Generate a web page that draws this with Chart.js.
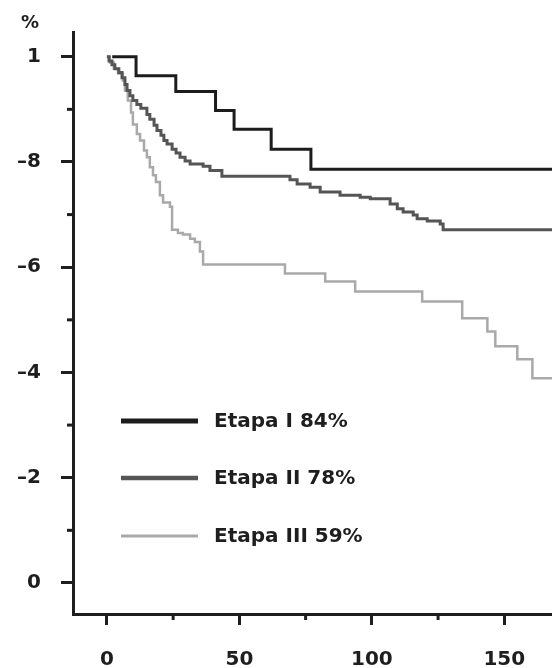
<!DOCTYPE html>
<html>
<head>
<meta charset="utf-8">
<script src="https://cdn.jsdelivr.net/npm/chart.js@4.4.0/dist/chart.umd.min.js"></script>
<style>
  body { margin: 0; background: #fff; }
  #wrap { width: 552px; height: 668px; position: relative; }
</style>
</head>
<body>
<div id="wrap"><canvas id="survivalChart"></canvas></div>
<script>
// Axis ticks
const xTicks = [0, 50, 100, 150];
const xMinorTicks = [25, 75, 125];
const yTicks = [0, 0.2, 0.4, 0.6, 0.8, 1];
const yTickLabels = ['0', '\u20132', '\u20134', '\u20136', '\u20138', '1'];
const yMinorTicks = [0.1, 0.3, 0.5, 0.7, 0.9];

// Series (time, survival)
const seriesLabels = ['Etapa I 84%', 'Etapa II 78%', 'Etapa III 59%'];

const etapaITime  = [2, 11, 26, 41, 48, 62, 77, 168];
const etapaIValue = [1, 0.964, 0.934, 0.898, 0.862, 0.824, 0.786, 0.786];

const etapaIITime  = [0, 0.8, 1.9, 3.0, 4.5, 5.7, 6.8, 7.6, 8.7, 9.8, 11.3, 12.8, 15.1, 16.2, 17.8,
  18.9, 20.4, 21.5, 22.7, 24.6, 26.1, 27.6, 29.5, 31.4, 36.3, 38.9, 43.4, 69.1, 71.8, 76.7,
  80.5, 88.0, 95.6, 99.4, 106.9, 109.6, 111.8, 115.6, 117.1, 120.9, 125.8, 126.9, 168];
const etapaIIValue = [1, 0.992, 0.985, 0.977, 0.970, 0.960, 0.947, 0.936, 0.926, 0.917, 0.909, 0.902, 0.890, 0.881, 0.870,
  0.860, 0.851, 0.841, 0.834, 0.824, 0.817, 0.809, 0.802, 0.796, 0.792, 0.784, 0.773, 0.766, 0.758, 0.752,
  0.743, 0.737, 0.733, 0.730, 0.720, 0.711, 0.705, 0.699, 0.692, 0.688, 0.682, 0.671, 0.671];

const etapaIIITime  = [0, 1.1, 2.6, 4.2, 6.0, 6.8, 7.9, 9.1, 9.8, 11.3, 12.5, 14.0, 15.1, 16.2, 17.4,
  18.5, 20.0, 21.2, 23.8, 24.6, 26.8, 28.7, 31.4, 33.2, 35.1, 36.3, 67.2, 82.4, 93.7, 119.0,
  134.1, 143.6, 146.6, 154.9, 160.6, 168];
const etapaIIIValue = [1, 0.989, 0.977, 0.968, 0.955, 0.936, 0.917, 0.894, 0.871, 0.853, 0.841, 0.822, 0.809, 0.790, 0.775,
  0.762, 0.737, 0.723, 0.715, 0.671, 0.665, 0.662, 0.654, 0.648, 0.630, 0.605, 0.588, 0.573, 0.554, 0.535,
  0.503, 0.478, 0.450, 0.425, 0.389, 0.389];

const lineColors = ['#1c1c1c', '#555555', '#a9a9a9'];
const lineWidths = [3, 3, 2.5];
const legendWidths = [5, 4.5, 3];

const toPoints = (t, v) => t.map((x, i) => ({ x: x, y: v[i] }));

const axisColor = '#1e1e1e';
const tickFont = { family: 'DejaVu Sans', weight: 'bold', size: 20 };

// Minor ticks, the "%" mark and the in-plot legend
const overlayPlugin = {
    id: 'overlay',
    afterDraw(chart) {
        const ctx = chart.ctx;
        const area = chart.chartArea;
        const xs = chart.scales.x;
        const ys = chart.scales.y;
        ctx.save();
        ctx.strokeStyle = axisColor;
        ctx.lineWidth = 3;
        yMinorTicks.forEach(v => {
            const py = ys.getPixelForValue(v);
            ctx.beginPath();
            ctx.moveTo(area.left - 6, py);
            ctx.lineTo(area.left, py);
            ctx.stroke();
        });
        xMinorTicks.forEach(v => {
            const px = xs.getPixelForValue(v);
            ctx.beginPath();
            ctx.moveTo(px, area.bottom);
            ctx.lineTo(px, area.bottom + 6);
            ctx.stroke();
        });

        ctx.fillStyle = axisColor;
        ctx.font = 'bold 18px "DejaVu Sans"';
        ctx.textAlign = 'center';
        ctx.textBaseline = 'middle';
        ctx.fillText('%', 30, 23);

        // legend rows
        const rowY = [421, 478, 536];
        ctx.textAlign = 'left';
        ctx.font = 'bold 20px "DejaVu Sans"';
        chart.data.datasets.forEach((ds, i) => {
            ctx.strokeStyle = ds.borderColor;
            ctx.lineWidth = legendWidths[i];
            ctx.beginPath();
            ctx.moveTo(121, rowY[i]);
            ctx.lineTo(198, rowY[i]);
            ctx.stroke();
            ctx.fillStyle = axisColor;
            ctx.fillText(ds.label, 214, rowY[i] + 1);
        });
        ctx.restore();
    }
};

const ctx = document.getElementById('survivalChart').getContext('2d');
const survivalChart = new Chart(ctx, {
    type: 'line',
    data: {
        datasets: [
            { label: seriesLabels[0], data: toPoints(etapaITime, etapaIValue) },
            { label: seriesLabels[1], data: toPoints(etapaIITime, etapaIIValue) },
            { label: seriesLabels[2], data: toPoints(etapaIIITime, etapaIIIValue) }
        ].map((ds, i) => Object.assign(ds, {
            borderColor: lineColors[i],
            borderWidth: lineWidths[i],
            stepped: true,
            pointRadius: 0,
            fill: false
        }))
    },
    options: {
        responsive: true,
        maintainAspectRatio: false,
        animation: false,
        layout: { padding: { top: 29, right: 0, left: 0, bottom: 0 } },
        plugins: {
            legend: { display: false },
            tooltip: { enabled: false }
        },
        scales: {
            x: {
                type: 'linear',
                min: -12.8,
                max: 168,
                afterBuildTicks: (scale) => { scale.ticks = xTicks.map(v => ({ value: v })); },
                afterFit: (scale) => { scale.height = 54; },
                ticks: { color: axisColor, font: tickFont, padding: 23, maxRotation: 0 },
                grid: { drawOnChartArea: false, tickLength: 11, tickWidth: 3, tickColor: axisColor },
                border: { display: true, width: 3, color: axisColor }
            },
            y: {
                min: -0.059,
                max: 1.047,
                afterBuildTicks: (scale) => { scale.ticks = yTicks.map(v => ({ value: v })); },
                afterFit: (scale) => { scale.width = 73; },
                ticks: {
                    color: axisColor,
                    font: tickFont,
                    padding: 20,
                    callback: (value) => {
                        const i = yTicks.findIndex(t => Math.abs(t - value) < 1e-6);
                        return i >= 0 ? yTickLabels[i] : '';
                    }
                },
                grid: { drawOnChartArea: false, tickLength: 12, tickWidth: 3, tickColor: axisColor },
                border: { display: true, width: 3, color: axisColor }
            }
        }
    },
    plugins: [overlayPlugin]
});
</script>
</body>
</html>
